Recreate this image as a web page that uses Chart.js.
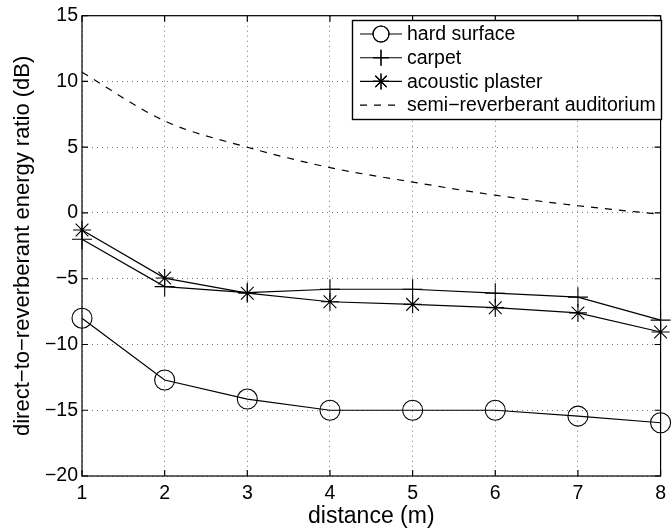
<!DOCTYPE html>
<html>
<head>
<meta charset="utf-8">
<script src="https://cdn.jsdelivr.net/npm/chart.js@4.4.1/dist/chart.umd.min.js"></script>
<style>
html,body{margin:0;padding:0;background:#fff;overflow:hidden;}
#wrap{position:relative;width:672px;height:531px;}
</style>
</head>
<body>
<div id="wrap"><canvas id="canvas"></canvas></div>
<script>
// values (dB)
var DISTANCE = [1, 2, 3, 4, 5, 6, 7, 8];
var HARD_SURFACE = [-8.0, -12.7, -14.15, -15.0, -15.0, -15.0, -15.45, -15.95];
var CARPET = [-2.0, -5.6, -6.05, -5.8, -5.8, -6.1, -6.4, -8.15];
var ACOUSTIC_PLASTER = [-1.3, -4.95, -6.1, -6.75, -6.95, -7.2, -7.6, -9.05];
var AUDITORIUM = [10.7, 7.0, 5.0, 3.45, 2.35, 1.35, 0.55, -0.1];
var SERIES_LABELS = ['hard surface', 'carpet', 'acoustic plaster', 'semi\u2212reverberant auditorium'];
var Y_TICKS = [-20, -15, -10, -5, 0, 5, 10, 15];
var X_TICKS = [1, 2, 3, 4, 5, 6, 7, 8];

var FONT = '"Liberation Sans", Arial, Helvetica, sans-serif';
Chart.defaults.font.family = FONT;
Chart.defaults.color = '#000';

var toPoints = function(_values){
	return _values.map(function(_v, _i){ return {x: DISTANCE[_i], y: _v}; });
};

var mkSet = function(_label, _values, _style, _radius, _dash){
	return {
		label: _label,
		data: toPoints(_values),
		borderColor: '#000',
		backgroundColor: 'rgba(0,0,0,0)',
		borderWidth: 1.2,
		borderDash: _dash || [],
		pointStyle: _style,
		pointRadius: _radius,
		pointHoverRadius: _radius,
		pointBorderColor: '#000',
		pointBackgroundColor: 'rgba(0,0,0,0)',
		pointBorderWidth: 1.1,
		tension: 0,
		clip: false
	};
};

var datasets = [
	mkSet(SERIES_LABELS[0], HARD_SURFACE, 'circle', 10),
	mkSet(SERIES_LABELS[1], CARPET, 'cross', 10),
	mkSet(SERIES_LABELS[2], ACOUSTIC_PLASTER, 'star', 9),
	mkSet(SERIES_LABELS[3], AUDITORIUM, false, 0, [7, 7])
];
datasets[3].cubicInterpolationMode = 'monotone';

// matlab style box, inward ticks and legend
var matlabBox = {
	id: 'matlabBox',
	afterDraw: function(chart){
		var ctx = chart.ctx;
		var a = chart.chartArea;
		var xs = chart.scales.x, ys = chart.scales.y;
		ctx.save();
		ctx.strokeStyle = '#000';
		ctx.lineWidth = 1.2;
		ctx.setLineDash([]);
		ctx.strokeRect(a.left, a.top, a.right - a.left, a.bottom - a.top);
		ctx.beginPath();
		X_TICKS.forEach(function(_t){
			var px = xs.getPixelForValue(_t);
			ctx.moveTo(px, a.bottom); ctx.lineTo(px, a.bottom - 6);
			ctx.moveTo(px, a.top); ctx.lineTo(px, a.top + 6);
		});
		Y_TICKS.forEach(function(_t){
			var py = ys.getPixelForValue(_t);
			ctx.moveTo(a.left, py); ctx.lineTo(a.left + 6, py);
			ctx.moveTo(a.right, py); ctx.lineTo(a.right - 6, py);
		});
		ctx.stroke();

		// legend
		var bx = 352.5, by = 20.5, bw = 309, bh = 99;
		ctx.fillStyle = '#fff';
		ctx.fillRect(bx, by, bw, bh);
		ctx.lineWidth = 1.4;
		ctx.strokeRect(bx, by, bw, bh);
		ctx.font = '19.5px ' + FONT;
		ctx.textBaseline = 'middle';
		ctx.textAlign = 'left';
		chart.data.datasets.forEach(function(_ds, _i){
			var ry = 34 + _i * 23.7;
			ctx.lineWidth = 1.1;
			ctx.strokeStyle = '#000';
			ctx.setLineDash(_ds.borderDash);
			ctx.beginPath();
			ctx.moveTo(360, ry); ctx.lineTo(402, ry);
			ctx.stroke();
			ctx.setLineDash([]);
			if (_ds.pointStyle) {
				Chart.helpers.drawPoint(ctx, {pointStyle: _ds.pointStyle, radius: 8, rotation: 0, borderWidth: 1.1}, 381, ry);
				ctx.stroke();
			}
			ctx.fillStyle = '#000';
			ctx.fillText(_ds.label, 407, ry + 1);
		});
		ctx.restore();
	}
};

var ctx = document.getElementById('canvas').getContext('2d');
window.myLine = new Chart(ctx, {
	type: 'line',
	data: {datasets: datasets},
	plugins: [matlabBox],
	options: {
		responsive: true,
		maintainAspectRatio: false,
		animation: false,
		events: [],
		layout: {
			autoPadding: false,
			padding: {top: 13.5, right: 4, left: 0, bottom: 0}
		},
		plugins: {
			legend: {display: false},
			tooltip: {enabled: false}
		},
		scales: {
			x: {
				type: 'linear',
				min: 1,
				max: 8,
				afterBuildTicks: function(_scale){
					_scale.ticks = X_TICKS.map(function(_v){ return {value: _v}; });
				},
				afterFit: function(_scale){ _scale.height = 55; },
				grid: {color: 'rgba(0,0,0,0.55)', lineWidth: 1, drawTicks: false},
				border: {display: false, dash: [1, 4]},
				ticks: {font: {size: 19.5}, padding: 6, maxRotation: 0, autoSkip: false},
				title: {display: true, text: 'distance (m)', font: {size: 23}, padding: {top: 0, bottom: 1}}
			},
			y: {
				type: 'linear',
				min: -20,
				max: 15,
				afterBuildTicks: function(_scale){
					_scale.ticks = Y_TICKS.map(function(_v){ return {value: _v}; });
				},
				afterFit: function(_scale){ _scale.width = 82; },
				grid: {color: 'rgba(0,0,0,0.55)', lineWidth: 1, drawTicks: false},
				border: {display: false, dash: [1, 4]},
				ticks: {font: {size: 19.5}, padding: 4, autoSkip: false, callback: function(_v){ return String(_v).replace('-', '\u2212'); }},
				title: {display: true, text: 'direct\u2212to\u2212reverberant energy ratio (dB)', font: {size: 22}, padding: {top: 10, bottom: 0}}
			}
		}
	}
});
</script>
</body>
</html>
